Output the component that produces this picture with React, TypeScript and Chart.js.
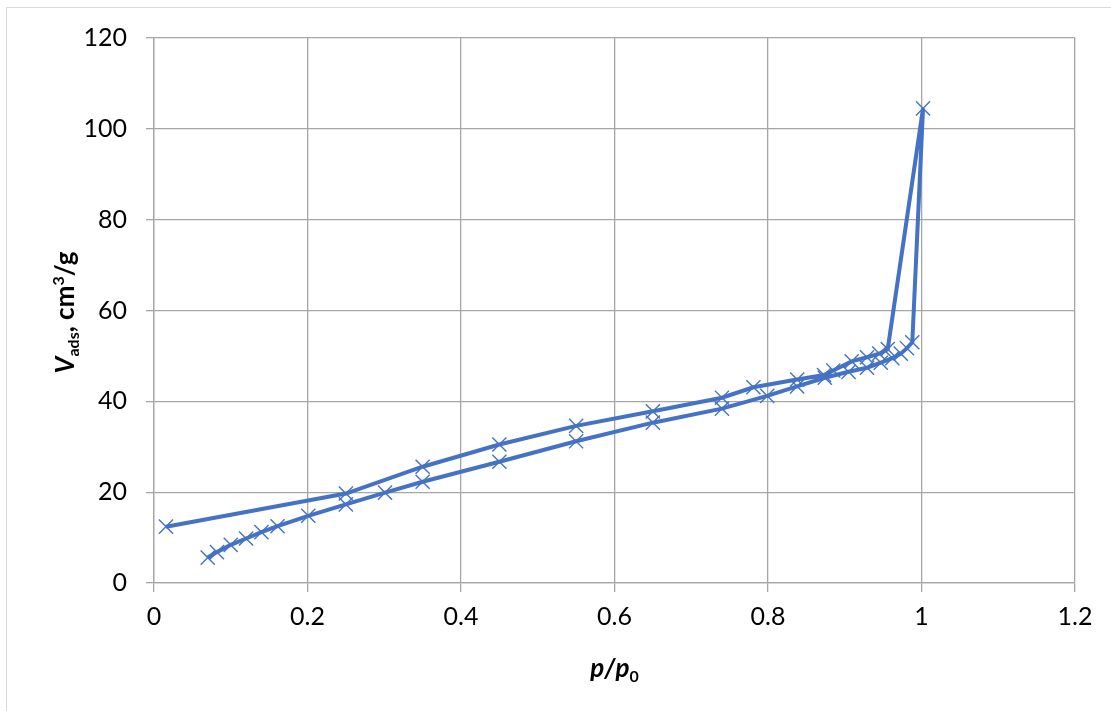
import React, { useEffect, useRef } from "react";
import { Chart, registerables } from "chart.js";

Chart.register(...registerables);

// Adsorption branch (p/p0 increasing)
const adsorptionP = [0.07, 0.082, 0.1, 0.12, 0.14, 0.161, 0.201, 0.25, 0.301, 0.35, 0.45, 0.55, 0.65, 0.74, 0.799, 0.838, 0.874, 0.905, 0.929, 0.947, 0.962, 0.973, 0.981, 0.988, 1.002];
const adsorptionV = [5.6, 6.8, 8.4, 9.8, 11.2, 12.5, 14.8, 17.3, 19.9, 22.3, 26.7, 31.2, 35.3, 38.4, 41.2, 43.3, 45.2, 46.5, 47.4, 48.5, 49.5, 50.5, 51.7, 53.0, 104.5];
// Desorption branch (p/p0 decreasing)
const desorptionP = [0.956, 0.945, 0.929, 0.909, 0.885, 0.873, 0.838, 0.781, 0.74, 0.65, 0.55, 0.45, 0.35, 0.25, 0.0156];
const desorptionV = [51.5, 50.5, 49.7, 48.8, 46.8, 45.8, 44.8, 43.1, 40.8, 37.8, 34.6, 30.5, 25.6, 19.7, 12.4];

const xMin = 0;
const xMax = 1.2;
const xStep = 0.2;
const yMin = 0;
const yMax = 120;
const yStep = 20;

const FONT = "Lato, 'Liberation Sans', sans-serif";
const COLOR = "#4472C4";
const GRID = "#a6a6a6";

type Run = { text: string; size: number; italic?: boolean; dy: number };

const xTitleRuns: Run[] = [
  { text: "p", size: 26, italic: true, dy: 0 },
  { text: "/", size: 26, italic: true, dy: 0 },
  { text: "p", size: 26, italic: true, dy: 0 },
  { text: "0", size: 16, italic: false, dy: 5 },
];

const yTitleRuns: Run[] = [
  { text: "V", size: 26, italic: true, dy: 0 },
  { text: "ads", size: 16, italic: false, dy: 5 },
  { text: ", cm", size: 26, italic: false, dy: 0 },
  { text: "3", size: 16, italic: false, dy: -10 },
  { text: "/g", size: 26, italic: false, dy: 0 },
];

function fontOf(r: Run) {
  return `${r.italic ? "italic " : ""}bold ${r.size}px ${FONT}`;
}

function drawRuns(ctx: CanvasRenderingContext2D, runs: Run[], cx: number, baseline: number) {
  let total = 0;
  const widths = runs.map((r) => {
    ctx.font = fontOf(r);
    const w = ctx.measureText(r.text).width;
    total += w;
    return w;
  });
  let x = cx - total / 2;
  ctx.textAlign = "left";
  ctx.textBaseline = "alphabetic";
  runs.forEach((r, i) => {
    ctx.font = fontOf(r);
    ctx.fillText(r.text, x, baseline + r.dy);
    x += widths[i];
  });
}

const titlePlugin = {
  id: "axisTitles",
  afterDraw(chart: any) {
    const ctx: CanvasRenderingContext2D = chart.ctx;
    const area = chart.chartArea;
    ctx.save();
    ctx.fillStyle = "#000";
    drawRuns(ctx, xTitleRuns, (area.left + area.right) / 2, 677);
    ctx.translate(74, (area.top + area.bottom) / 2 + 2);
    ctx.rotate(-Math.PI / 2);
    drawRuns(ctx, yTitleRuns, 0, 0);
    ctx.restore();
  },
};

export default function App() {
  const ref = useRef<HTMLCanvasElement | null>(null);

  useEffect(() => {
    if (!ref.current) return;
    const points = [
      ...adsorptionP.map((p, i) => ({ x: p, y: adsorptionV[i] })),
      ...desorptionP.map((p, i) => ({ x: p, y: desorptionV[i] })),
    ];
    const chart = new Chart(ref.current, {
      type: "scatter",
      data: {
        datasets: [
          {
            data: points,
            showLine: true,
            borderColor: COLOR,
            backgroundColor: COLOR,
            borderWidth: 4,
            tension: 0,
            pointStyle: "crossRot",
            pointRadius: 10,
            pointBorderWidth: 1.4,
            pointBorderColor: COLOR,
          } as any,
        ],
      },
      options: {
        animation: false,
        responsive: false,
        layout: { padding: { top: 38, right: 36, left: 0, bottom: 0 } },
        plugins: { legend: { display: false }, tooltip: { enabled: false } },
        scales: {
          x: {
            type: "linear",
            min: xMin,
            max: xMax,
            afterFit: (s: any) => {
              s.height = 128;
            },
            ticks: {
              stepSize: xStep,
              color: "#000",
              font: { family: FONT, size: 25 },
              padding: 10,
              callback: (v: any) => String(Math.round(Number(v) * 10) / 10),
            },
            grid: { color: GRID, lineWidth: 1.3, tickLength: 9, drawTicks: true },
            border: { color: GRID, width: 1.3 },
          },
          y: {
            type: "linear",
            min: yMin,
            max: yMax,
            afterFit: (s: any) => {
              s.width = 154;
            },
            ticks: {
              stepSize: yStep,
              color: "#000",
              font: { family: FONT, size: 25 },
              padding: 19,
            },
            grid: { color: GRID, lineWidth: 1.3, tickLength: 8, drawTicks: true },
            border: { color: GRID, width: 1.3 },
          },
        },
      },
      plugins: [titlePlugin],
    });
    return () => chart.destroy();
  }, []);

  return (
    <div style={{ position: "absolute", left: 0, top: 0, width: 1111, height: 711, background: "#fff" }}>
      <div
        style={{
          position: "absolute",
          left: 6,
          top: 7,
          right: 0,
          bottom: 0,
          borderTop: "1px solid #d9d9d9",
          borderLeft: "1px solid #d9d9d9",
        }}
      />
      <canvas ref={ref} width={1111} height={711} style={{ position: "absolute", left: 0, top: 0 }} />
    </div>
  );
}
